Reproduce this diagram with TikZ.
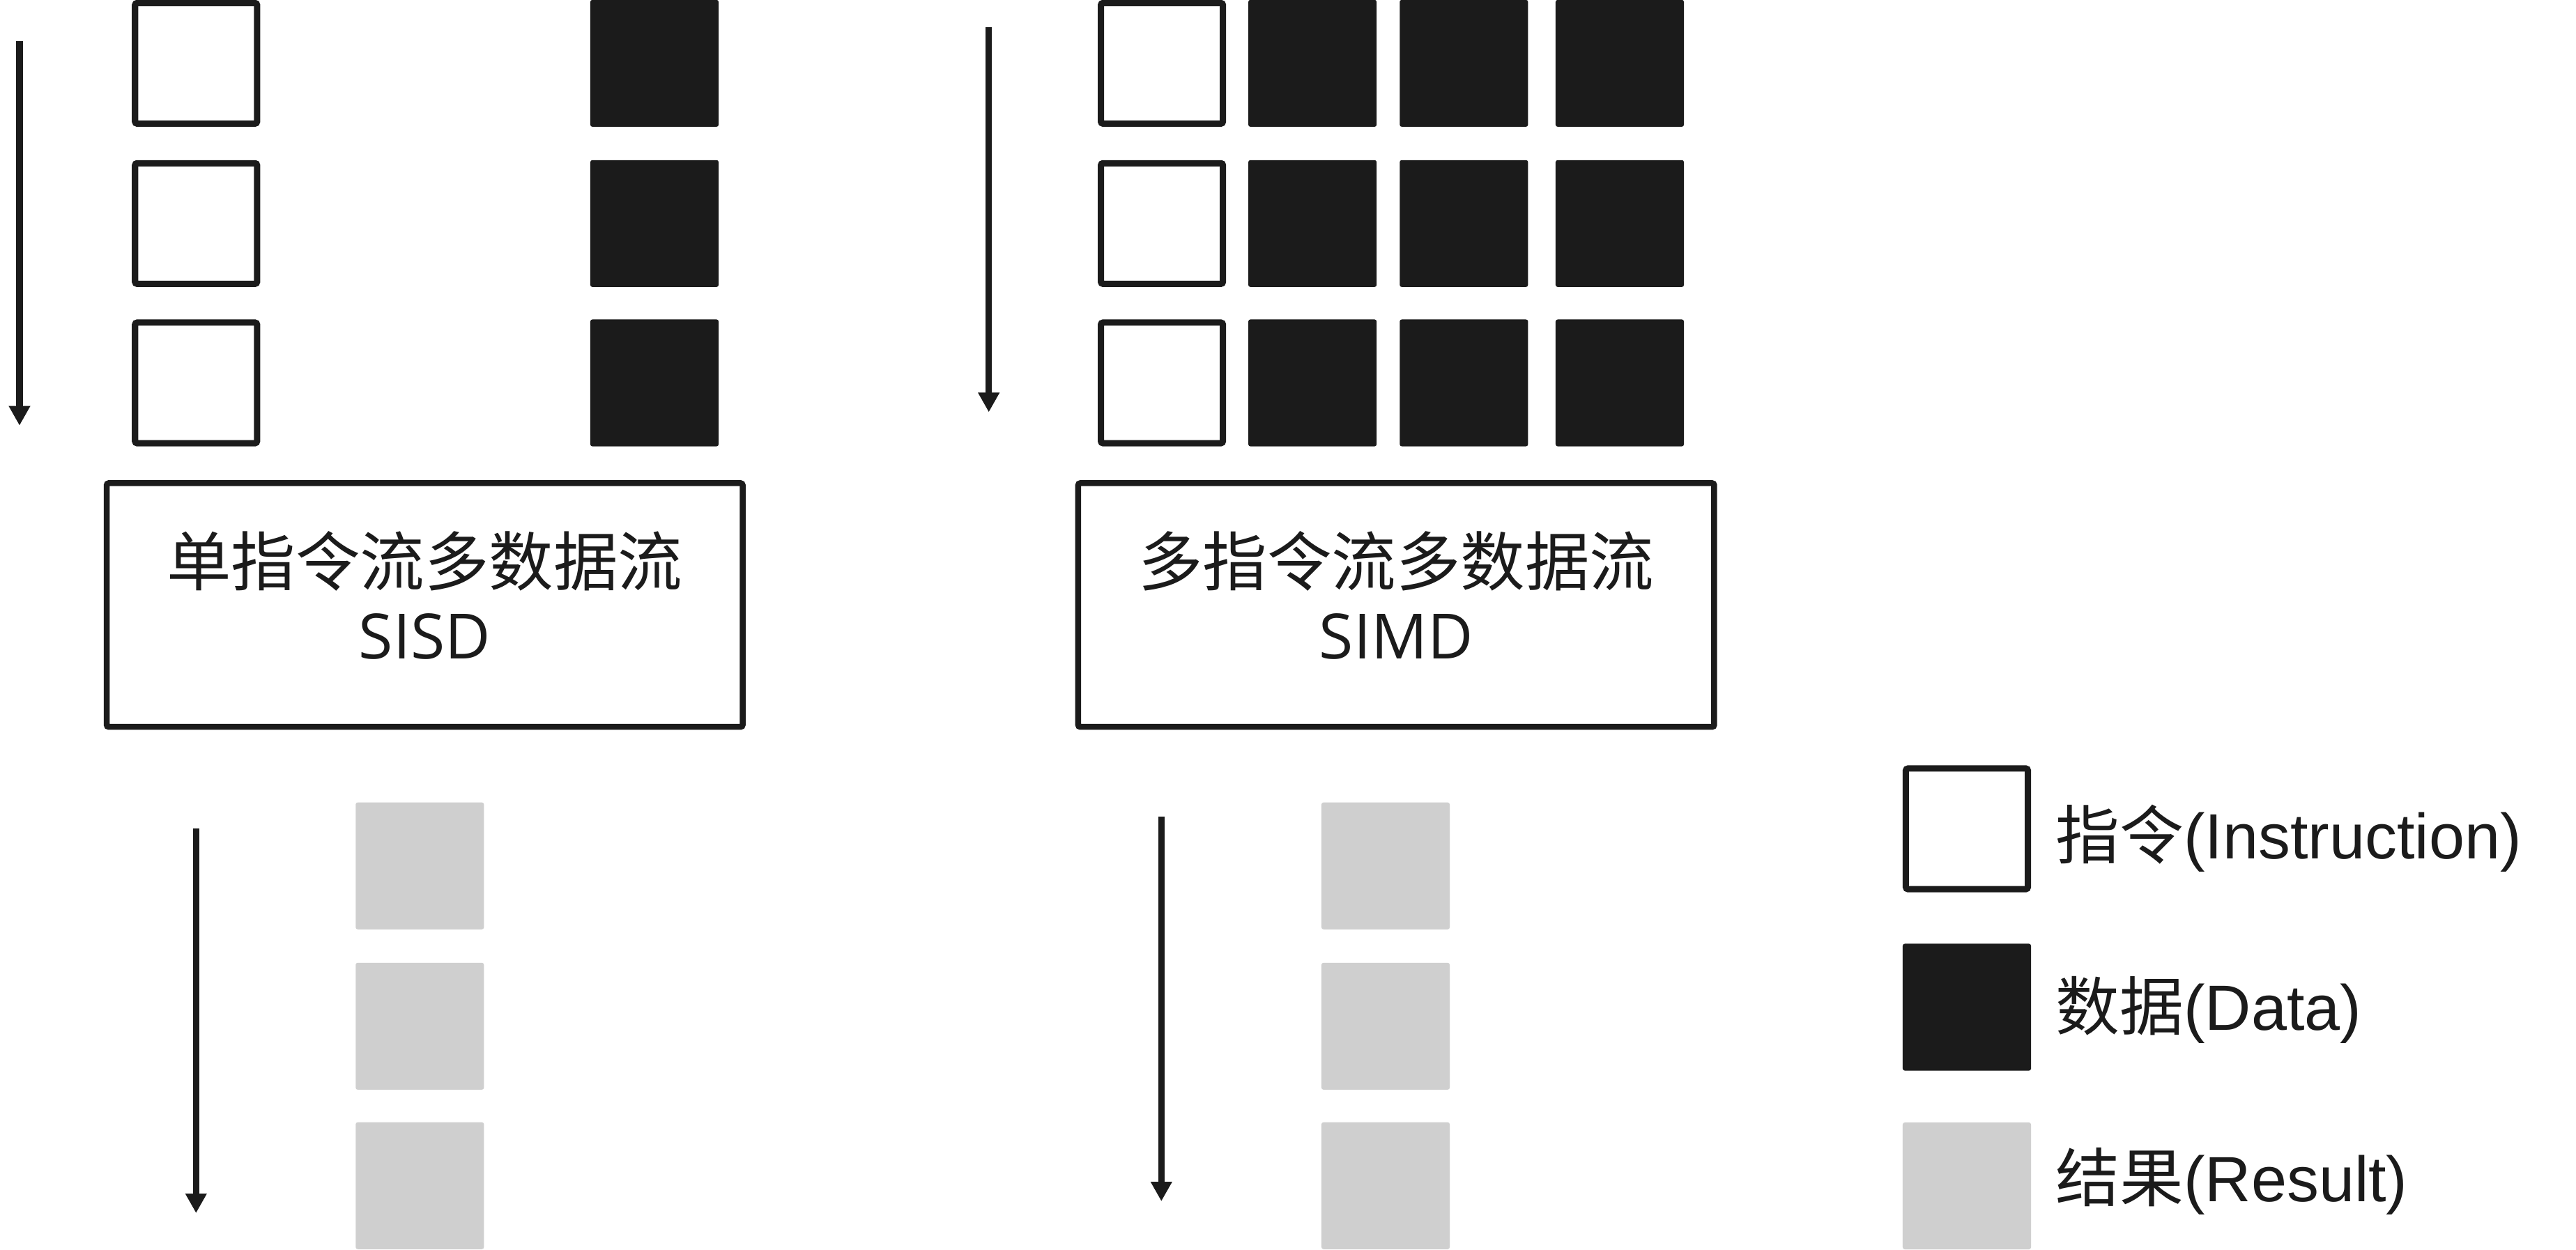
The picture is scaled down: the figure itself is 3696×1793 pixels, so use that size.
\documentclass[tikz,border=0pt]{standalone}
\usepackage{fontspec}
\newfontfamily\cjk{Noto Sans CJK SC}
\newfontfamily\latf{Open Sans}
\newfontfamily\arialf{Liberation Sans}
\usetikzlibrary{arrows.meta}
\definecolor{ink}{HTML}{1B1B1B}
\definecolor{res}{HTML}{CFCFCF}
\begin{document}
\begin{tikzpicture}[x=0.01cm,y=-0.01cm,
  instr/.style={draw=ink, line width=0.09cm, fill=white, rounded corners=0.03cm,
    minimum width=1.75cm, minimum height=1.73cm, inner sep=0pt, outer sep=0pt},
  datab/.style={fill=ink, rounded corners=0.03cm,
    minimum width=1.84cm, minimum height=1.82cm, inner sep=0pt, outer sep=0pt},
  resb/.style={fill=res, rounded corners=0.03cm,
    minimum width=1.84cm, minimum height=1.82cm, inner sep=0pt, outer sep=0pt},
  bigbox/.style={draw=ink, line width=0.085cm, rounded corners=0.03cm,
    minimum width=9.12cm, minimum height=3.495cm, inner sep=0pt},
  boxcn/.style={font={\cjk\fontsize{26.3pt}{30pt}\selectfont}, text=ink, inner sep=0pt, anchor=base},
  boxlat/.style={font={\latf\fontsize{25.5pt}{30pt}\selectfont}, text=ink, inner sep=0pt, anchor=base},
  legtext/.style={font={\fontsize{26.1pt}{30pt}\selectfont}, text=ink, inner sep=0pt, anchor=base west},
  flow/.style={draw=ink, line width=0.09cm, -{Triangle[width=0.29cm,length=0.28cm]}}
]
\useasboundingbox (0,0) rectangle (3696,1793);
\fill[white] (0,0) rectangle (3696,1793);

% ---------- left (SISD) ----------
\node[instr] (li1) at (281.3,90.85) {};
\node[instr] (li2) at (281.3,320.8) {};
\node[instr] (li3) at (281.3,549.5) {};
\node[datab] (ld1) at (939,90.85) {};
\node[datab] (ld2) at (939,320.8) {};
\node[datab] (ld3) at (939,549.5) {};

\node[bigbox] (sisd) at (609.3,868.3) {};
\node[boxcn] (sisdcn) at (609.3,840) {单指令流多数据流};
\node[boxlat] (sisdlat) at (609.3,945) {SISD};

\node[resb] (lr1) at (602.3,1242.7) {};
\node[resb] (lr2) at (602.3,1472.8) {};
\node[resb] (lr3) at (602.3,1701.7) {};

\coordinate (a1s) at (28,58.9);
\coordinate (a1e) at (28,610.7);
\draw[flow] (a1s) -- (a1e);
\coordinate (a3s) at (281.3,1189.3);
\coordinate (a3e) at (281.3,1741);
\draw[flow] (a3s) -- (a3e);

% ---------- right (SIMD) ----------
\node[instr] (ri1) at (1667.1,90.85) {};
\node[instr] (ri2) at (1667.1,320.8) {};
\node[instr] (ri3) at (1667.1,549.5) {};
\foreach \cx/\k in {1883.1/a, 2100.3/b, 2324/c} {
  \node[datab] (rd1\k) at (\cx,90.85) {};
  \node[datab] (rd2\k) at (\cx,320.8) {};
  \node[datab] (rd3\k) at (\cx,549.5) {};
}

\node[bigbox] (simd) at (2003.2,868.3) {};
\node[boxcn] (simdcn) at (2003.2,840) {多指令流多数据流};
\node[boxlat] (simdlat) at (2003.2,945) {SIMD};

\node[resb] (rr1) at (1988,1242.7) {};
\node[resb] (rr2) at (1988,1472.8) {};
\node[resb] (rr3) at (1988,1701.7) {};

\coordinate (a2s) at (1418.7,39.3);
\coordinate (a2e) at (1418.7,591.5);
\draw[flow] (a2s) -- (a2e);
\coordinate (a4s) at (1666.3,1172);
\coordinate (a4e) at (1666.3,1724);
\draw[flow] (a4s) -- (a4e);

% ---------- legend ----------
\node[instr] (gi) at (2822,1189.5) {};
\node[datab] (gd) at (2822,1445.5) {};
\node[resb] (gr) at (2822,1702) {};
\node[legtext] (gti) at (2949,1232.6) {{\cjk 指令}{\arialf (Instruction)}};
\node[legtext] (gtd) at (2949,1478) {{\cjk 数据}{\arialf (Data)}};
\node[legtext] (gtr) at (2949,1724) {{\cjk 结果}{\arialf (Result)}};
\end{tikzpicture}
\end{document}
